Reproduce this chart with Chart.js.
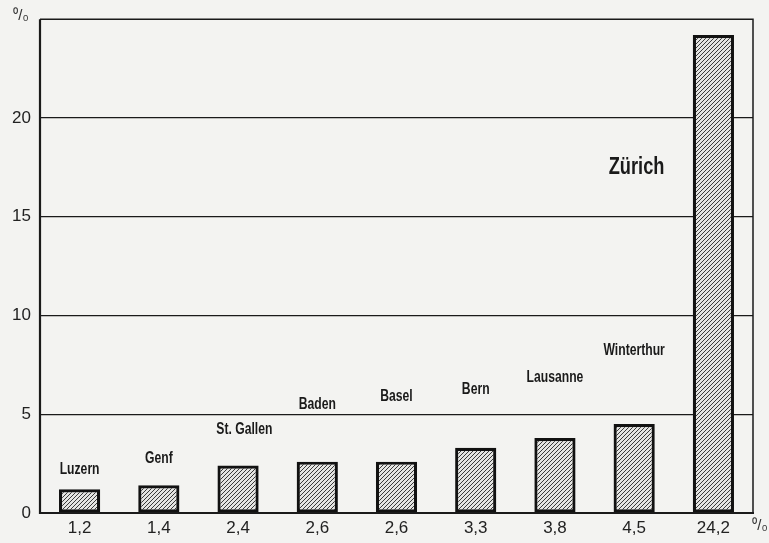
<!DOCTYPE html>
<html><head><meta charset="utf-8">
<script src="https://cdn.jsdelivr.net/npm/chart.js@4/dist/chart.umd.min.js"></script>
<style>html,body{margin:0;padding:0;background:#f3f3f1;}#wrap{width:769px;height:543px;}</style>
</head><body><div id="wrap"><canvas id="c" width="769" height="543"></canvas></div>
<script>
const cities = ["Luzern","Genf","St. Gallen","Baden","Basel","Bern","Lausanne","Winterthur","Zürich"];
const shares = [1.2, 1.4, 2.4, 2.6, 2.6, 3.3, 3.8, 4.5, 24.2];
const yTicks = [0, 5, 10, 15, 20];

// label placement (layout, not data)
const labelX = [0, 1, 2.08, 3, 4, 5, 6, 7, 7.03];
const labelY = [2.2, 2.76, 4.2, 5.47, 5.88, 6.23, 6.88, 8.24, 17.5];

function hatch(){
  const s = 4, c = document.createElement('canvas');
  c.width = s; c.height = s;
  const g = c.getContext('2d');
  g.fillStyle = '#e4e4e2'; g.fillRect(0,0,s,s);
  g.strokeStyle = '#3a3a3a'; g.lineWidth = 1;
  g.beginPath();
  g.moveTo(0,s); g.lineTo(s,0);
  g.moveTo(-1,1); g.lineTo(1,-1);
  g.moveTo(s-1,s+1); g.lineTo(s+1,s-1);
  g.stroke();
  return g.createPattern(c,'repeat');
}
const cv = document.getElementById('c');
const fmt = v => v.toFixed(1).replace('.', ',');
const labelFont = "'Liberation Sans', Arial, sans-serif";

const decor = {
  id:'decor',
  afterDraw(chart){
    const {ctx, chartArea:a, scales:{x,y}} = chart;
    ctx.save();
    ctx.strokeStyle = '#1a1a1a';
    ctx.lineWidth = 1.5;
    ctx.beginPath();
    ctx.moveTo(a.left, a.top); ctx.lineTo(a.right, a.top); ctx.lineTo(a.right, a.bottom);
    ctx.stroke();
    ctx.lineWidth = 2.2;
    ctx.beginPath();
    ctx.moveTo(a.left, a.top); ctx.lineTo(a.left, a.bottom); ctx.lineTo(a.right+1, a.bottom);
    ctx.stroke();
    ctx.fillStyle = '#1a1a1a';
    ctx.textAlign = 'center'; ctx.textBaseline = 'middle';
    cities.forEach((name,i)=>{
      const big = i === cities.length-1;
      ctx.font = 'bold ' + (big ? 24 : 16) + 'px ' + labelFont;
      const px = x.left + (labelX[i] + 0.5) * (x.right - x.left) / cities.length;
      const py = y.getPixelForValue(labelY[i]);
      ctx.save();
      ctx.translate(px, py);
      ctx.scale(0.76, 1);
      ctx.fillText(name, 0, 0);
      ctx.restore();
    });
    ctx.font = '15px "Liberation Sans", Arial, sans-serif';
    ctx.fillStyle = '#333';
    ctx.fillText('⁰/₀', 21, 16);
    ctx.fillText('⁰/₀', 760, 526);
    ctx.restore();
  }
};

new Chart(cv, {
  type:'bar',
  data:{ labels: cities, datasets:[{ data: shares, backgroundColor: hatch(), borderColor:'#111', borderWidth:3.2, borderSkipped:false, barPercentage:0.52, categoryPercentage:1 }]},
  options:{
    responsive:false, animation:false,
    layout:{ autoPadding:false, padding:{ top:17, right:16, left:0, bottom:0 } },
    plugins:{ legend:{display:false}, tooltip:{enabled:false} },
    scales:{
      x:{
        grid:{display:false, drawTicks:false}, border:{display:false},
        ticks:{ color:'#222', font:{family:"'Liberation Sans', Arial, sans-serif", size:17}, padding:5,
          callback:(v,i)=>fmt(shares[i]) },
        afterFit(s){ s.height = 30; }
      },
      y:{
        min:0, max:25,
        afterBuildTicks(s){ s.ticks = yTicks.map(v=>({value:v})); },
        grid:{ color:'#1a1a1a', lineWidth:1.2, drawTicks:false },
        border:{display:false},
        ticks:{ color:'#222', font:{family:"'Liberation Sans', Arial, sans-serif", size:17}, padding:9 },
        afterFit(s){ s.width = 40; }
      }
    }
  },
  plugins:[decor]
});
</script></body></html>
